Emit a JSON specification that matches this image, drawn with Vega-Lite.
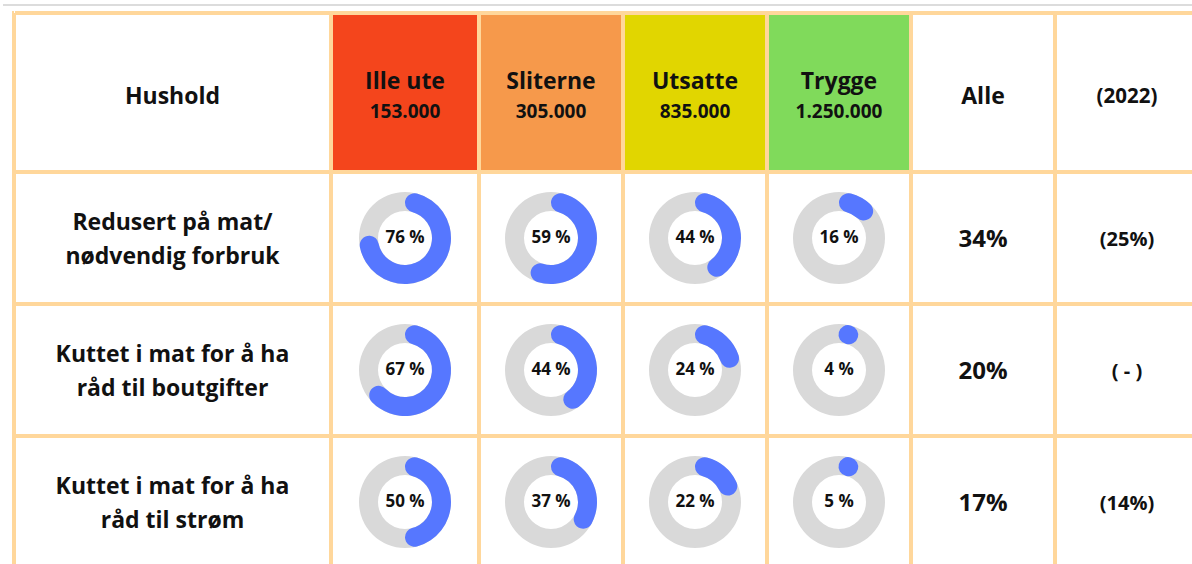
{
  "$schema": "https://vega.github.io/schema/vega-lite/v6.json",
  "padding": {"left": 3, "top": 4, "right": 0, "bottom": 0},
  "background": "white",
  "config": {
    "font": "Open Sans",
    "text": {"fontWeight": "bold", "color": "#111111"},
    "view": {"stroke": "#FFD79B", "strokeWidth": 2, "fill": "white"}
  },
  "datasets": {
    "rows": [
      {"r": 1, "label": "Redusert på mat/\nnødvendig forbruk", "alle": "34%", "y2022": "(25%)"},
      {"r": 2, "label": "Kuttet i mat for å ha\nråd til boutgifter", "alle": "20%", "y2022": "( - )"},
      {"r": 3, "label": "Kuttet i mat for å ha\nråd til strøm", "alle": "17%", "y2022": "(14%)"}
    ],
    "donuts": [
      {"r": 1, "g": "Ille ute", "pct": 76, "txt": "76 %"},
      {"r": 1, "g": "Sliterne", "pct": 59, "txt": "59 %"},
      {"r": 1, "g": "Utsatte", "pct": 44, "txt": "44 %"},
      {"r": 1, "g": "Trygge", "pct": 16, "txt": "16 %"},
      {"r": 2, "g": "Ille ute", "pct": 67, "txt": "67 %"},
      {"r": 2, "g": "Sliterne", "pct": 44, "txt": "44 %"},
      {"r": 2, "g": "Utsatte", "pct": 24, "txt": "24 %"},
      {"r": 2, "g": "Trygge", "pct": 4, "txt": "4 %"},
      {"r": 3, "g": "Ille ute", "pct": 50, "txt": "50 %"},
      {"r": 3, "g": "Sliterne", "pct": 37, "txt": "37 %"},
      {"r": 3, "g": "Utsatte", "pct": 22, "txt": "22 %"},
      {"r": 3, "g": "Trygge", "pct": 5, "txt": "5 %"}
    ]
  },
  "spacing": 5,
  "vconcat": [
    {
      "width": 1200,
      "height": 2,
      "view": {"fill": "#DCDCDC", "stroke": null},
      "data": {"values": [{"t": ""}]},
      "mark": {"type": "point", "size": 0, "opacity": 0},
      "encoding": {}
    },
    {
      "spacing": 0,
      "hconcat": [
        {
          "width": 9,
          "height": 1,
          "view": {"fill": null, "stroke": null},
          "data": {"values": [{"t": ""}]},
          "mark": {"type": "point", "size": 0, "opacity": 0},
          "encoding": {}
        },
        {
          "width": 2,
          "height": 600,
          "view": {"fill": "#FFD79B", "stroke": null},
          "data": {"values": [{"t": ""}]},
          "mark": {"type": "point", "size": 0, "opacity": 0},
          "encoding": {}
        },
        {
          "spacing": 0,
          "vconcat": [
            {
              "width": 1200,
              "height": 2,
              "view": {"fill": "#FFD79B", "stroke": null},
              "data": {"values": [{"t": ""}]},
              "mark": {"type": "point", "size": 0, "opacity": 0},
              "encoding": {}
            },
            {
              "spacing": 0,
              "hconcat": [
                {
                  "width": 315, "height": 157,
                  "view": {"fill": "white", "stroke": "#FFD79B", "strokeWidth": 2},
                  "data": {"values": [{"name": "Hushold"}]},
                  "mark": {"type": "text", "fontSize": 23, "dy": 4},
                  "encoding": {"text": {"field": "name"}}
                },
                {
                  "width": 146, "height": 157,
                  "view": {"fill": "#F4451C", "stroke": "#FFD79B", "strokeWidth": 2},
                  "data": {"values": [{"name": "Ille ute", "n": "153.000"}]},
                  "layer": [
                    {"mark": {"type": "text", "fontSize": 23, "dy": -10.5}, "encoding": {"text": {"field": "name"}}},
                    {"mark": {"type": "text", "fontSize": 19, "dy": 19.5}, "encoding": {"text": {"field": "n"}}}
                  ]
                },
                {
                  "width": 142, "height": 157,
                  "view": {"fill": "#F6994B", "stroke": "#FFD79B", "strokeWidth": 2},
                  "data": {"values": [{"name": "Sliterne", "n": "305.000"}]},
                  "layer": [
                    {"mark": {"type": "text", "fontSize": 23, "dy": -10.5}, "encoding": {"text": {"field": "name"}}},
                    {"mark": {"type": "text", "fontSize": 19, "dy": 19.5}, "encoding": {"text": {"field": "n"}}}
                  ]
                },
                {
                  "width": 142, "height": 157,
                  "view": {"fill": "#E1D600", "stroke": "#FFD79B", "strokeWidth": 2},
                  "data": {"values": [{"name": "Utsatte", "n": "835.000"}]},
                  "layer": [
                    {"mark": {"type": "text", "fontSize": 23, "dy": -10.5}, "encoding": {"text": {"field": "name"}}},
                    {"mark": {"type": "text", "fontSize": 19, "dy": 19.5}, "encoding": {"text": {"field": "n"}}}
                  ]
                },
                {
                  "width": 142, "height": 157,
                  "view": {"fill": "#80DA5B", "stroke": "#FFD79B", "strokeWidth": 2},
                  "data": {"values": [{"name": "Trygge", "n": "1.250.000"}]},
                  "layer": [
                    {"mark": {"type": "text", "fontSize": 23, "dy": -10.5}, "encoding": {"text": {"field": "name"}}},
                    {"mark": {"type": "text", "fontSize": 19, "dy": 19.5}, "encoding": {"text": {"field": "n"}}}
                  ]
                },
                {
                  "width": 142, "height": 157,
                  "view": {"fill": "white", "stroke": "#FFD79B", "strokeWidth": 2},
                  "data": {"values": [{"name": "Alle"}]},
                  "mark": {"type": "text", "fontSize": 23, "dy": 4},
                  "encoding": {"text": {"field": "name"}}
                },
                {
                  "width": 142, "height": 157,
                  "view": {"fill": "white", "stroke": "#FFD79B", "strokeWidth": 2},
                  "data": {"values": [{"name": "(2022)"}]},
                  "mark": {"type": "text", "fontSize": 20.5, "dy": 4},
                  "encoding": {"text": {"field": "name"}}
                }
              ]
            },
            {
              "spacing": 0,
              "hconcat": [
                {
                  "data": {"name": "rows"},
                  "spacing": 0,
                  "facet": {"row": {"field": "r", "type": "ordinal", "header": null}},
                  "spec": {
                    "width": 315, "height": 130,
                    "view": {"fill": "white", "stroke": "#FFD79B", "strokeWidth": 2},
                    "mark": {"type": "text", "fontSize": 23, "lineBreak": "\n", "lineHeight": 34, "dy": -15.5},
                    "encoding": {"text": {"field": "label"}}
                  }
                },
                {
                  "data": {"name": "donuts"},
                  "transform": [{"filter": "datum.g === 'Ille ute'"}],
                  "spacing": 0,
                  "facet": {"row": {"field": "r", "type": "ordinal", "header": null}},
                  "spec": {
                    "width": 146, "height": 130,
                    "view": {"fill": "white", "stroke": "#FFD79B", "strokeWidth": 2},
                    "layer": [
                      {"mark": {"type": "arc", "radius": 46, "radius2": 27, "theta": 0, "theta2": 6.2832, "color": "#D9D9D9"}},
                      {
                        "mark": {"type": "arc", "radius": 46, "radius2": 27, "cornerRadius": 9.5, "color": "#5677FF"},
                        "encoding": {"theta": {"field": "pct", "type": "quantitative", "scale": {"domain": [0, 100], "range": [0, 6.2832]}}}
                      },
                      {"mark": {"type": "text", "fontSize": 17}, "encoding": {"text": {"field": "txt"}}}
                    ]
                  }
                },
                {
                  "data": {"name": "donuts"},
                  "transform": [{"filter": "datum.g === 'Sliterne'"}],
                  "spacing": 0,
                  "facet": {"row": {"field": "r", "type": "ordinal", "header": null}},
                  "spec": {
                    "width": 142, "height": 130,
                    "view": {"fill": "white", "stroke": "#FFD79B", "strokeWidth": 2},
                    "layer": [
                      {"mark": {"type": "arc", "radius": 46, "radius2": 27, "theta": 0, "theta2": 6.2832, "color": "#D9D9D9"}},
                      {
                        "mark": {"type": "arc", "radius": 46, "radius2": 27, "cornerRadius": 9.5, "color": "#5677FF"},
                        "encoding": {"theta": {"field": "pct", "type": "quantitative", "scale": {"domain": [0, 100], "range": [0, 6.2832]}}}
                      },
                      {"mark": {"type": "text", "fontSize": 17}, "encoding": {"text": {"field": "txt"}}}
                    ]
                  }
                },
                {
                  "data": {"name": "donuts"},
                  "transform": [{"filter": "datum.g === 'Utsatte'"}],
                  "spacing": 0,
                  "facet": {"row": {"field": "r", "type": "ordinal", "header": null}},
                  "spec": {
                    "width": 142, "height": 130,
                    "view": {"fill": "white", "stroke": "#FFD79B", "strokeWidth": 2},
                    "layer": [
                      {"mark": {"type": "arc", "radius": 46, "radius2": 27, "theta": 0, "theta2": 6.2832, "color": "#D9D9D9"}},
                      {
                        "mark": {"type": "arc", "radius": 46, "radius2": 27, "cornerRadius": 9.5, "color": "#5677FF"},
                        "encoding": {"theta": {"field": "pct", "type": "quantitative", "scale": {"domain": [0, 100], "range": [0, 6.2832]}}}
                      },
                      {"mark": {"type": "text", "fontSize": 17}, "encoding": {"text": {"field": "txt"}}}
                    ]
                  }
                },
                {
                  "data": {"name": "donuts"},
                  "transform": [{"filter": "datum.g === 'Trygge'"}],
                  "spacing": 0,
                  "facet": {"row": {"field": "r", "type": "ordinal", "header": null}},
                  "spec": {
                    "width": 142, "height": 130,
                    "view": {"fill": "white", "stroke": "#FFD79B", "strokeWidth": 2},
                    "layer": [
                      {"mark": {"type": "arc", "radius": 46, "radius2": 27, "theta": 0, "theta2": 6.2832, "color": "#D9D9D9"}},
                      {
                        "transform": [{"filter": "datum.pct >= 8"}],
                        "mark": {"type": "arc", "radius": 46, "radius2": 27, "cornerRadius": 9.5, "color": "#5677FF"},
                        "encoding": {"theta": {"field": "pct", "type": "quantitative", "scale": {"domain": [0, 100], "range": [0, 6.2832]}}}
                      },
                      {
                        "transform": [{"filter": "datum.pct < 8"}],
                        "mark": {"type": "arc", "radius": 36.5, "radius2": 36.5, "theta": 0.25, "theta2": 0.27, "fill": "#5677FF", "stroke": "#5677FF", "strokeWidth": 19, "strokeJoin": "round", "strokeCap": "round"}
                      },
                      {"mark": {"type": "text", "fontSize": 17}, "encoding": {"text": {"field": "txt"}}}
                    ]
                  }
                },
                {
                  "data": {"name": "rows"},
                  "spacing": 0,
                  "facet": {"row": {"field": "r", "type": "ordinal", "header": null}},
                  "spec": {
                    "width": 142, "height": 130,
                    "view": {"fill": "white", "stroke": "#FFD79B", "strokeWidth": 2},
                    "mark": {"type": "text", "fontSize": 24, "dy": 2},
                    "encoding": {"text": {"field": "alle"}}
                  }
                },
                {
                  "data": {"name": "rows"},
                  "spacing": 0,
                  "facet": {"row": {"field": "r", "type": "ordinal", "header": null}},
                  "spec": {
                    "width": 142, "height": 130,
                    "view": {"fill": "white", "stroke": "#FFD79B", "strokeWidth": 2},
                    "mark": {"type": "text", "fontSize": 20, "dy": 2},
                    "encoding": {"text": {"field": "y2022"}}
                  }
                }
              ]
            }
          ]
        }
      ]
    }
  ]
}
